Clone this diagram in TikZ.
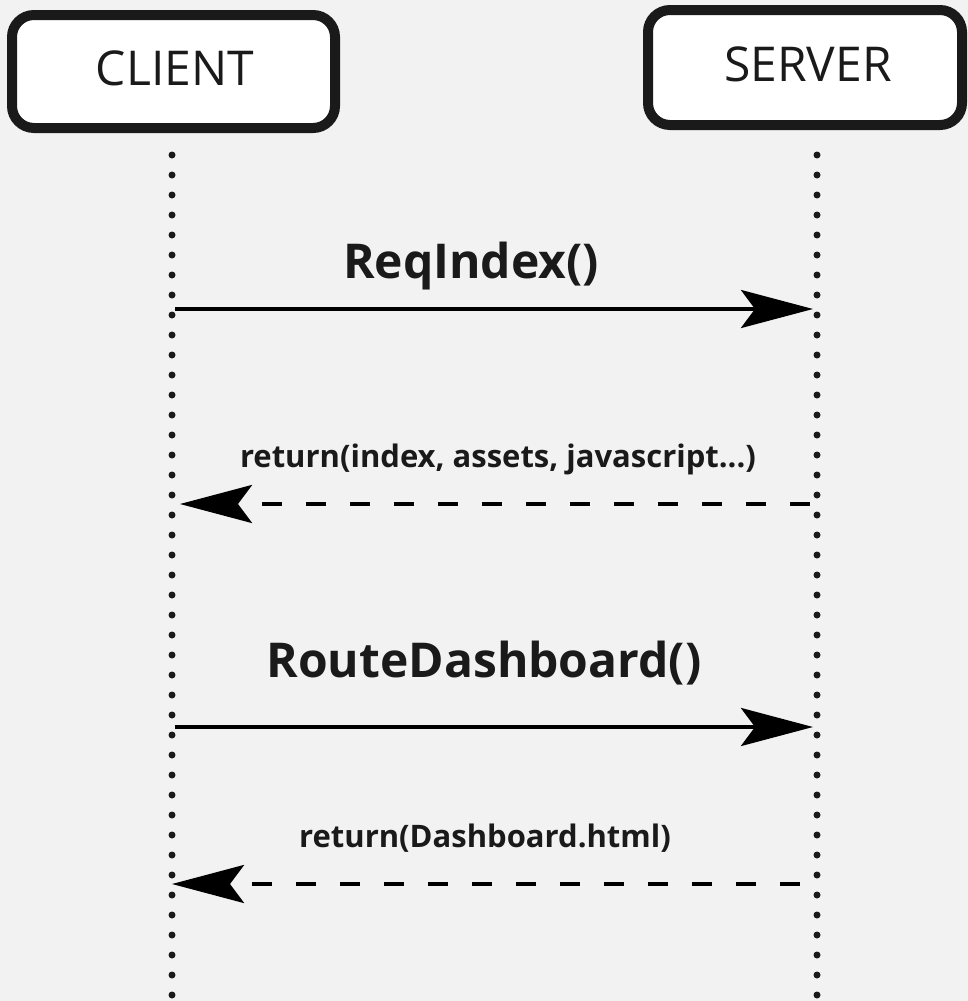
\documentclass[tikz,border=0pt]{standalone}
\usepackage{fontspec}
\setmainfont{Open Sans}
\usetikzlibrary{arrows.meta}
\definecolor{bg}{HTML}{F2F2F2}
\definecolor{ink}{HTML}{1A1A1A}

\begin{document}
\begin{tikzpicture}[x=1pt, y=-1pt,
    actor/.style={draw=ink, line width=10pt, rounded corners=22pt, fill=white,
      inner sep=0pt, text=ink, font=\fontsize{47}{50}\selectfont},
    lifeline/.style={ink, line width=7pt, line cap=round, dash pattern=on 0pt off 20pt},
    call/.style={black, line width=4pt, -{Stealth[length=72pt, width=38pt, inset=14pt]}},
    reply/.style={call, dash pattern=on 20pt off 24pt},
    bigmsg/.style={anchor=base, text=ink, font=\fontsize{48}{52}\selectfont\bfseries},
    smallmsg/.style={anchor=base, text=ink, font=\fontsize{31}{34}\selectfont\bfseries}]
        \fill[bg] (0,0) rectangle (968,1001);
        \useasboundingbox (0,0) rectangle (968,1001);

        % actors
        \node[actor, minimum width=323pt, minimum height=113pt] (client) at (173.5,71.5) {};
        \node[anchor=base, text=ink, font=\fontsize{48}{50}\selectfont] (clientname) at (175,85) {CLIENT};
        \node[actor, minimum width=314pt, minimum height=115pt] (server) at (805,67.5) {};
        \node[anchor=base, text=ink, font=\fontsize{48}{50}\selectfont] (servername) at (808,81) {SERVER};

        % lifelines
        \coordinate (clienttop) at (172,155);
        \coordinate (clientend) at (172,1005);
        \coordinate (servertop) at (817,155);
        \coordinate (serverend) at (817,1005);
        \draw[lifeline] (clienttop) -- (clientend);
        \draw[lifeline] (servertop) -- (serverend);

        % message ends
        \coordinate (reqfrom) at (175,309);
        \coordinate (reqto) at (813,309);
        \coordinate (retfrom) at (810,504);
        \coordinate (retto) at (180,504);
        \coordinate (routefrom) at (175,727);
        \coordinate (routeto) at (813,727);
        \coordinate (dashfrom) at (800,884);
        \coordinate (dashto) at (172,884);

        \draw[call] (reqfrom) -- (reqto);
        \node[bigmsg] (reqlabel) at (471,278) {ReqIndex()};
        \draw[reply] (retfrom) -- (retto);
        \node[smallmsg] (retlabel) at (498,467) {return(index, assets, javascript...)};
        \draw[call] (routefrom) -- (routeto);
        \node[bigmsg] (routelabel) at (484,677) {RouteDashboard()};
        \draw[reply] (dashfrom) -- (dashto);
        \node[smallmsg] (dashlabel) at (485,847) {return(Dashboard.html)};
\end{tikzpicture}
\end{document}
